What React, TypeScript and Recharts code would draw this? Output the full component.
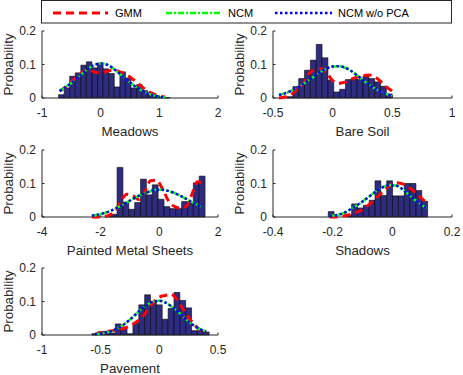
import { Bar, ComposedChart, Line, XAxis, YAxis } from "recharts";

// ---- data ----

const Y_TICKS = [0, 0.1, 0.2];

// Meadows
const MEADOWS_TICKS = [-1, 0, 1, 2];
const MEADOWS_BINS = [-0.67, -0.575, -0.48, -0.385, -0.29, -0.195, -0.1, -0.005, 0.09, 0.185, 0.28, 0.375, 0.47, 0.565, 0.66, 0.755, 0.85, 0.945, 1.04, 1.135];
const MEADOWS_PROB = [0.01, 0.03, 0.065, 0.075, 0.098, 0.108, 0.09, 0.104, 0.087, 0.073, 0.033, 0.078, 0.06, 0.03, 0.04, 0.022, 0.01, 0.007, 0.003, 0.001];
const MEADOWS_X = [-0.7, -0.6, -0.5, -0.4, -0.3, -0.2, -0.1, 0, 0.1, 0.2, 0.3, 0.4, 0.5, 0.6, 0.7, 0.8, 0.9, 1.0, 1.1];
const MEADOWS_GMM = [0.02, 0.032, 0.048, 0.064, 0.078, 0.084, 0.077, 0.076, 0.08, 0.083, 0.08, 0.073, 0.063, 0.049, 0.034, 0.021, 0.012, 0.006, 0.003];
const MEADOWS_NCM = [0.021, 0.032, 0.045, 0.06, 0.075, 0.089, 0.099, 0.103, 0.1, 0.09, 0.076, 0.061, 0.046, 0.033, 0.022, 0.014, 0.008, 0.004, 0.002];
const MEADOWS_NCM_NOPCA = [0.021, 0.032, 0.045, 0.06, 0.075, 0.089, 0.099, 0.103, 0.1, 0.09, 0.076, 0.061, 0.046, 0.033, 0.022, 0.014, 0.008, 0.004, 0.002];

// Bare Soil
const SOIL_TICKS = [-0.5, 0, 0.5, 1];
const SOIL_BINS = [-0.358, -0.309, -0.26, -0.211, -0.162, -0.113, -0.064, -0.015, 0.034, 0.083, 0.132, 0.181, 0.23, 0.279, 0.328, 0.377, 0.426, 0.475];
const SOIL_PROB = [0.004, 0.034, 0.058, 0.083, 0.113, 0.16, 0.12, 0.053, 0.018, 0.026, 0.055, 0.058, 0.055, 0.065, 0.058, 0.048, 0.035, 0.012];
const SOIL_X = [-0.45, -0.4, -0.35, -0.3, -0.25, -0.2, -0.15, -0.1, -0.05, 0, 0.05, 0.1, 0.15, 0.2, 0.25, 0.3, 0.35, 0.4, 0.45, 0.5];
const SOIL_GMM = [0.0, 0.003, 0.01, 0.025, 0.04, 0.072, 0.085, 0.088, 0.075, 0.052, 0.044, 0.047, 0.055, 0.062, 0.066, 0.069, 0.064, 0.05, 0.033, 0.02];
const SOIL_NCM = [0.009, 0.014, 0.021, 0.03, 0.041, 0.053, 0.066, 0.078, 0.088, 0.094, 0.095, 0.091, 0.082, 0.069, 0.055, 0.041, 0.029, 0.019, 0.012, 0.007];
const SOIL_NCM_NOPCA = [0.009, 0.014, 0.021, 0.03, 0.041, 0.053, 0.066, 0.078, 0.088, 0.094, 0.095, 0.091, 0.082, 0.069, 0.055, 0.041, 0.029, 0.019, 0.012, 0.007];

// Painted Metal Sheets
const METAL_TICKS = [-4, -2, 0, 2];
const METAL_BINS = [-2.14, -1.94, -1.74, -1.54, -1.34, -1.14, -0.94, -0.74, -0.54, -0.34, -0.14, 0.06, 0.26, 0.46, 0.66, 0.86, 1.06, 1.26, 1.46];
const METAL_PROB = [0.002, 0, 0.003, 0.008, 0.148, 0.044, 0.023, 0.043, 0.113, 0.066, 0.096, 0.053, 0.031, 0.025, 0.025, 0.046, 0.042, 0.102, 0.122];
const METAL_X = [-2.3, -2.1, -1.9, -1.7, -1.5, -1.3, -1.1, -0.9, -0.7, -0.5, -0.3, -0.1, 0.1, 0.3, 0.5, 0.7, 0.9, 1.1, 1.3, 1.5];
const METAL_GMM = [0.0, 0.0, 0.001, 0.006, 0.018, 0.05, 0.068, 0.064, 0.052, 0.075, 0.108, 0.11, 0.085, 0.05, 0.032, 0.027, 0.03, 0.065, 0.105, 0.1];
const METAL_NCM = [0.004, 0.007, 0.011, 0.017, 0.025, 0.034, 0.044, 0.054, 0.063, 0.071, 0.077, 0.081, 0.081, 0.078, 0.072, 0.064, 0.055, 0.045, 0.036, 0.027];
const METAL_NCM_NOPCA = [0.004, 0.007, 0.011, 0.017, 0.025, 0.034, 0.044, 0.054, 0.063, 0.071, 0.077, 0.081, 0.081, 0.078, 0.072, 0.064, 0.055, 0.045, 0.036, 0.027];

// Shadows
const SHADOW_TICKS = [-0.4, -0.2, 0, 0.2];
const SHADOW_BINS = [-0.205, -0.1854, -0.1658, -0.1462, -0.1266, -0.107, -0.0874, -0.0678, -0.0482, -0.0286, -0.009, 0.0106, 0.0302, 0.0498, 0.0694, 0.089, 0.1086];
const SHADOW_PROB = [0.016, 0, 0, 0.006, 0.039, 0.027, 0.035, 0.05, 0.108, 0.064, 0.108, 0.063, 0.063, 0.1, 0.1, 0.079, 0.047];
const SHADOW_X = [-0.21, -0.185, -0.16, -0.135, -0.11, -0.085, -0.06, -0.035, -0.01, 0.015, 0.04, 0.065, 0.09, 0.115];
const SHADOW_GMM = [0.0, 0.001, 0.004, 0.009, 0.018, 0.032, 0.052, 0.073, 0.093, 0.102, 0.097, 0.082, 0.062, 0.042];
const SHADOW_NCM = [0.003, 0.006, 0.013, 0.026, 0.04, 0.056, 0.073, 0.088, 0.095, 0.093, 0.078, 0.059, 0.041, 0.026];
const SHADOW_NCM_NOPCA = [0.003, 0.006, 0.013, 0.026, 0.04, 0.056, 0.073, 0.088, 0.095, 0.093, 0.078, 0.059, 0.041, 0.026];

// Pavement
const PAVE_TICKS = [-1, -0.5, 0, 0.5];
const PAVE_BINS = [-0.55, -0.5, -0.45, -0.4, -0.35, -0.3, -0.25, -0.2, -0.15, -0.1, -0.05, 0, 0.05, 0.1, 0.15, 0.2, 0.25, 0.3, 0.35, 0.4];
const PAVE_PROB = [0.004, 0.01, 0.011, 0.006, 0.033, 0.024, 0.004, 0.035, 0.09, 0.12, 0.1, 0.09, 0.047, 0.079, 0.127, 0.103, 0.081, 0.013, 0.013, 0.009];
const PAVE_X = [-0.55, -0.5, -0.45, -0.4, -0.35, -0.3, -0.25, -0.2, -0.15, -0.1, -0.05, 0, 0.05, 0.1, 0.15, 0.2, 0.25, 0.3, 0.35, 0.4];
const PAVE_GMM = [0.002, 0.006, 0.01, 0.013, 0.016, 0.02, 0.027, 0.038, 0.052, 0.075, 0.098, 0.113, 0.118, 0.122, 0.106, 0.078, 0.052, 0.03, 0.015, 0.006];
const PAVE_NCM = [0.002, 0.004, 0.007, 0.013, 0.021, 0.032, 0.046, 0.062, 0.078, 0.091, 0.1, 0.102, 0.097, 0.086, 0.072, 0.056, 0.04, 0.027, 0.017, 0.01];
const PAVE_NCM_NOPCA = [0.002, 0.004, 0.007, 0.013, 0.021, 0.032, 0.046, 0.062, 0.078, 0.091, 0.1, 0.102, 0.097, 0.086, 0.072, 0.056, 0.04, 0.027, 0.017, 0.01];

// ---- styles ----

const FONT = '"Liberation Sans", Arial, Helvetica, sans-serif';
const AXIS = "#262626";
const BAR_FILL = "#2e2c80";
const GMM_STYLE = { stroke: "#ff0000", strokeWidth: 3, strokeDasharray: "8 5" };
const NCM_STYLE = { stroke: "#00ff00", strokeWidth: 2.5, strokeDasharray: "6 2 2 2" };
const NOPCA_STYLE = { stroke: "#0000ff", strokeWidth: 2.5, strokeDasharray: "2.5 2.5" };

const LEFT = 42;
const TOP = 12;
const RIGHT = 10;
const BOTTOM = 42;
const TICK_IN = -2.5;

interface SubplotProps {
  plotLeft: number;
  plotTop: number;
  plotWidth: number;
  plotHeight: number;
  ticks: number[];
  label: string;
  bins: number[];
  prob: number[];
  curveX: number[];
  gmm: number[];
  ncm: number[];
  ncmNoPca: number[];
}

const tickStyle = { fontSize: 12, fill: AXIS, fontFamily: FONT };

function Subplot(p: SubplotProps) {
  const domain: [number, number] = [p.ticks[0], p.ticks[p.ticks.length - 1]];
  const barRows = p.bins.map((x, i) => ({ x, prob: p.prob[i] }));
  const curveRows = p.curveX.map((x, i) => ({ x, gmm: p.gmm[i], ncm: p.ncm[i], nopca: p.ncmNoPca[i] }));
  const w = p.plotWidth + LEFT + RIGHT;
  const h = p.plotHeight + TOP + BOTTOM;
  const pos = { position: "absolute" as const, left: p.plotLeft - LEFT, top: p.plotTop - TOP };
  const binPx = ((p.bins[1] - p.bins[0]) * p.plotWidth) / (domain[1] - domain[0]);

  return (
    <>
      <div style={pos}>
        <ComposedChart
          width={w}
          height={h}
          data={barRows}
          margin={{ top: TOP, right: RIGHT, left: 0, bottom: 0 }}
          barCategoryGap={0}
          barGap={0}
        >
          <XAxis
            xAxisId="b"
            dataKey="x"
            type="number"
            domain={domain}
            ticks={p.ticks}
            height={BOTTOM}
            stroke={AXIS}
            tickSize={TICK_IN}
            tickMargin={13.3}
            tick={tickStyle}
            label={{ value: p.label, position: "insideBottom", offset: 4, fontSize: 13.3, fill: AXIS, fontFamily: FONT }}
          />
          <XAxis
            xAxisId="t"
            orientation="top"
            type="number"
            domain={domain}
            ticks={p.ticks}
            height={0}
            stroke={AXIS}
            tickSize={TICK_IN}
            tickFormatter={() => ""}
          />
          <YAxis
            yAxisId="l"
            type="number"
            domain={[0, 0.2]}
            ticks={Y_TICKS}
            width={LEFT}
            stroke={AXIS}
            tickSize={TICK_IN}
            tickMargin={8.5}
            tick={tickStyle}
            label={{
              value: "Probability",
              angle: -90,
              position: "insideLeft",
              offset: 8,
              fontSize: 13.3,
              fill: AXIS,
              fontFamily: FONT,
              style: { textAnchor: "middle" },
            }}
          />
          <YAxis
            yAxisId="r"
            orientation="right"
            type="number"
            domain={[0, 0.2]}
            ticks={Y_TICKS}
            width={0}
            stroke={AXIS}
            tickSize={TICK_IN}
            tickFormatter={() => ""}
          />
          <Bar
            xAxisId="b"
            yAxisId="l"
            dataKey="prob"
            fill={BAR_FILL}
            stroke="#000"
            strokeWidth={0.6}
            barSize={binPx - 0.05}
            isAnimationActive={false}
          />
        </ComposedChart>
      </div>
      <div style={{ ...pos, pointerEvents: "none" }}>
        <ComposedChart
          width={w}
          height={h}
          data={curveRows}
          margin={{ top: TOP, right: RIGHT, left: LEFT, bottom: BOTTOM }}
        >
          <XAxis dataKey="x" type="number" domain={domain} hide />
          <YAxis type="number" domain={[0, 0.2]} hide />
          <Line type="monotone" dataKey="gmm" {...GMM_STYLE} dot={false} activeDot={false} isAnimationActive={false} />
          <Line type="monotone" dataKey="ncm" {...NCM_STYLE} dot={false} activeDot={false} isAnimationActive={false} />
          <Line type="monotone" dataKey="nopca" {...NOPCA_STYLE} dot={false} activeDot={false} isAnimationActive={false} />
        </ComposedChart>
      </div>
    </>
  );
}

function LegendBox() {
  const items = [
    { name: "GMM", style: GMM_STYLE, x1: 53, x2: 108, tx: 115 },
    { name: "NCM", style: NCM_STYLE, x1: 166, x2: 220, tx: 228 },
    { name: "NCM w/o PCA", style: NOPCA_STYLE, x1: 275, x2: 332, tx: 338 },
  ];
  return (
    <svg width={463} height={26} style={{ position: "absolute", left: 0, top: 0 }}>
      <rect x={41.5} y={0.5} width={410} height={22.5} fill="#fff" stroke={AXIS} strokeWidth={1} />
      {items.map((it) => (
        <g key={it.name}>
          <line x1={it.x1} x2={it.x2} y1={13} y2={13} {...it.style} />
          <text x={it.tx} y={17.2} fontSize={11} fill="#000" fontFamily={FONT}>
            {it.name}
          </text>
        </g>
      ))}
    </svg>
  );
}

export default function App() {
  return (
    <div
      style={{
        position: "absolute",
        left: 0,
        top: 0,
        width: 463,
        height: 375,
        overflow: "hidden",
        background: "#fff",
        fontFamily: FONT,
      }}
    >
      <Subplot plotLeft={42} plotTop={31} plotWidth={176} plotHeight={67} ticks={MEADOWS_TICKS} label="Meadows"
        bins={MEADOWS_BINS} prob={MEADOWS_PROB} curveX={MEADOWS_X} gmm={MEADOWS_GMM} ncm={MEADOWS_NCM} ncmNoPca={MEADOWS_NCM_NOPCA} />
      <Subplot plotLeft={273} plotTop={31} plotWidth={179} plotHeight={67} ticks={SOIL_TICKS} label="Bare Soil"
        bins={SOIL_BINS} prob={SOIL_PROB} curveX={SOIL_X} gmm={SOIL_GMM} ncm={SOIL_NCM} ncmNoPca={SOIL_NCM_NOPCA} />
      <Subplot plotLeft={42} plotTop={150} plotWidth={176} plotHeight={67} ticks={METAL_TICKS} label="Painted Metal Sheets"
        bins={METAL_BINS} prob={METAL_PROB} curveX={METAL_X} gmm={METAL_GMM} ncm={METAL_NCM} ncmNoPca={METAL_NCM_NOPCA} />
      <Subplot plotLeft={273} plotTop={150} plotWidth={179} plotHeight={67} ticks={SHADOW_TICKS} label="Shadows"
        bins={SHADOW_BINS} prob={SHADOW_PROB} curveX={SHADOW_X} gmm={SHADOW_GMM} ncm={SHADOW_NCM} ncmNoPca={SHADOW_NCM_NOPCA} />
      <Subplot plotLeft={42} plotTop={268} plotWidth={176} plotHeight={67} ticks={PAVE_TICKS} label="Pavement"
        bins={PAVE_BINS} prob={PAVE_PROB} curveX={PAVE_X} gmm={PAVE_GMM} ncm={PAVE_NCM} ncmNoPca={PAVE_NCM_NOPCA} />
      <LegendBox />
    </div>
  );
}
